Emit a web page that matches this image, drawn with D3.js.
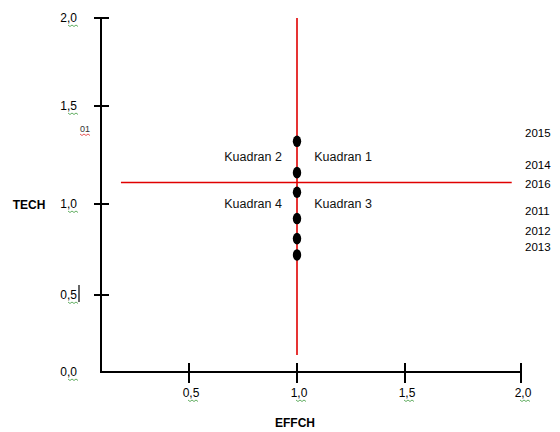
<!DOCTYPE html>
<html><head><meta charset="utf-8">
<script src="https://cdn.jsdelivr.net/npm/d3@7"></script>
<style>body{margin:0;background:#fff}svg{display:block}text{font-family:"Liberation Sans",Arial,sans-serif}</style>
</head><body><svg id="c" width="560" height="432"></svg>
<script>
const years = ["2015","2014","2016","2011","2012","2013"];
const effch = [1.0,1.0,1.0,1.0,1.0,1.0];
const tech = [1.32,1.16,1.06,0.92,0.81,0.72];
const xTicks = [0.5,1.0,1.5,2.0];
const yTicks = [0.0,0.5,1.0,1.5,2.0];
const tickLabels = {0:"0,0",0.5:"0,5",1:"1,0",1.5:"1,5",2:"2,0"};
const quadrants = [
  {name:"Kuadran 2", ex:0.93, ty:1.24, anchor:"end"},
  {name:"Kuadran 1", ex:1.08, ty:1.24, anchor:"start"},
  {name:"Kuadran 4", ex:0.93, ty:1.0, anchor:"end"},
  {name:"Kuadran 3", ex:1.08, ty:1.0, anchor:"start"}
];
const refX = 1.0, refY = 1.11;

const svg = d3.select("#c");
const x = d3.scaleLinear().domain([0.5,1,1.5,2]).range([189,297,405,521]);
const y = d3.scaleLinear().domain([0,0.5,1,1.5,2]).range([372,295,204,106,18]);
const x0 = 101;

// axes
svg.append("line").attr("x1",x0).attr("x2",x0).attr("y1",y(2)).attr("y2",y(0)+1).attr("stroke","#000").attr("stroke-width",2);
svg.append("line").attr("x1",x0).attr("x2",x(2)).attr("y1",y(0)).attr("y2",y(0)).attr("stroke","#000").attr("stroke-width",2);

svg.selectAll("line.yt").data(yTicks.filter(d=>d>0)).join("line").attr("class","yt")
  .attr("x1",x0-7).attr("x2",x0+8).attr("y1",d=>y(d)).attr("y2",d=>y(d)).attr("stroke","#000").attr("stroke-width",2);
svg.selectAll("line.xt").data(xTicks).join("line").attr("class","xt")
  .attr("x1",d=>x(d)).attr("x2",d=>x(d)).attr("y1",y(0)-9).attr("y2",y(0)+11).attr("stroke","#000").attr("stroke-width",2);

function squiggle(g, x1, x2, yy, color){
  let p = `M${x1},${yy}`;
  for(let xx=x1, i=0; xx<x2; xx+=2, i++) p += ` L${xx+2},${yy + (i%2?0:1.5)}`;
  g.append("path").attr("d",p).attr("fill","none").attr("stroke",color).attr("stroke-width",0.8);
}

// y tick labels
yTicks.forEach(d=>{
  svg.append("text").attr("x",77).attr("y",y(d)+4).attr("text-anchor","end").attr("font-size",12).attr("fill","#000").text(tickLabels[d]);
  squiggle(svg,68,77,y(d)+7,"#3c9a3c");
});
// x tick labels
xTicks.forEach(d=>{
  svg.append("text").attr("x",x(d)+2).attr("y",397).attr("text-anchor","middle").attr("font-size",12).attr("fill","#000").text(tickLabels[d]);
  squiggle(svg,x(d)-1,x(d)+9,400,"#3c9a3c");
});
// stray marks
svg.append("text").attr("x",80).attr("y",132).attr("font-size",9).attr("fill","#333").text("01");
squiggle(svg,80,90,134,"#e03030");
svg.append("line").attr("x1",79).attr("x2",79).attr("y1",285).attr("y2",302).attr("stroke","#000").attr("stroke-width",1.2);

// axis titles
svg.append("text").attr("x",29).attr("y",209).attr("text-anchor","middle").attr("font-size",12).attr("font-weight","bold").text("TECH");
svg.append("text").attr("x",295).attr("y",427).attr("text-anchor","middle").attr("font-size",12).attr("font-weight","bold").text("EFFCH");

// red reference lines
svg.append("line").attr("x1",x(refX)).attr("x2",x(refX)).attr("y1",y(2)).attr("y2",y(0.11)).attr("stroke","#e00000").attr("stroke-width",1.6);
svg.append("line").attr("x1",x(0.185)).attr("x2",x(1.96)).attr("y1",y(refY)).attr("y2",y(refY)).attr("stroke","#e00000").attr("stroke-width",1.6);

// quadrant labels
svg.selectAll("text.q").data(quadrants).join("text").attr("class","q")
  .attr("x",d=>x(d.ex)).attr("y",d=>y(d.ty)+4).attr("text-anchor",d=>d.anchor)
  .attr("font-size",12.5).attr("fill","#111").text(d=>d.name);

// points
svg.selectAll("ellipse.pt").data(tech).join("ellipse").attr("class","pt")
  .attr("cx",(d,i)=>x(effch[i])).attr("cy",d=>y(d)).attr("rx",4.2).attr("ry",5.8).attr("fill","#000");

// year labels
svg.selectAll("text.yr").data(tech).join("text").attr("class","yr")
  .attr("x",525).attr("y",d=>y(d)-4).attr("font-size",11.5).attr("fill","#000").text((d,i)=>years[i]);
</script></body></html>
